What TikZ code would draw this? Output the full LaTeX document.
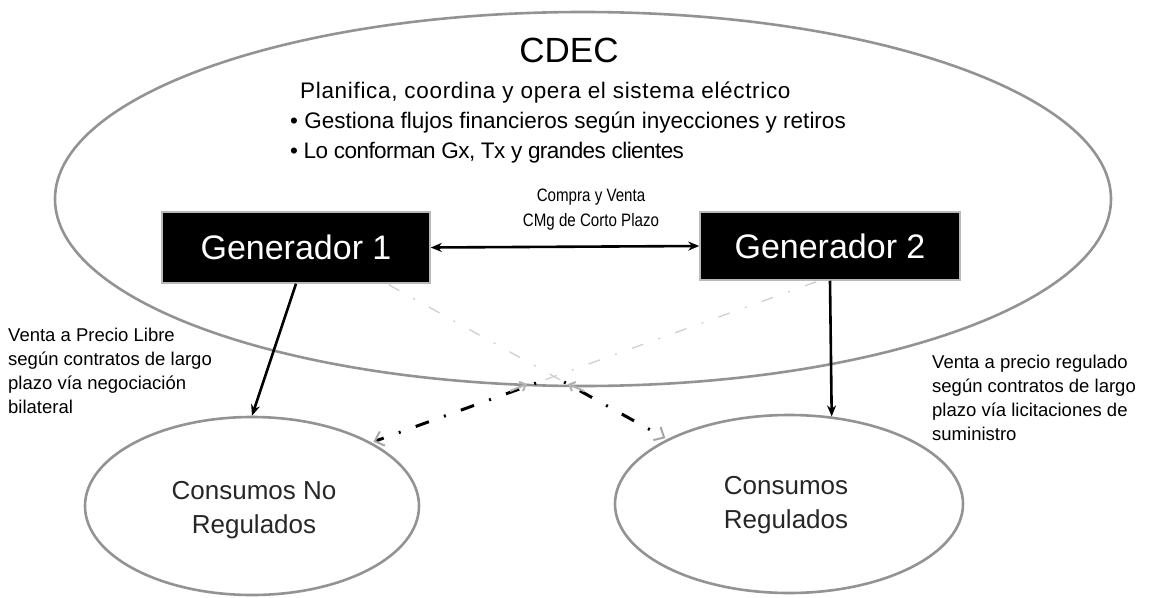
\documentclass[tikz,border=0pt]{standalone}
\usepackage{fontspec}
\setmainfont{Liberation Sans}
\newfontfamily\narrowfont[FakeStretch=0.84]{Liberation Sans}
\newfontfamily\widefont[LetterSpace=3]{Liberation Sans}
\newfontfamily\tightfont[LetterSpace=-2.5]{Liberation Sans}
\usetikzlibrary{shapes.geometric,arrows.meta,calc}
\begin{document}
\begin{tikzpicture}[x=1pt,y=-1pt,
  bigell/.style={ellipse, draw=gray!85, line width=2.6pt, inner sep=0pt},
  genbox/.style={rectangle, fill=black, draw=gray!55, line width=1.5pt, text=white, inner sep=0pt,
     font=\fontsize{34}{40}\selectfont},
  lbl/.style={align=left, inner sep=0pt, anchor=base west, font=\fontsize{18.5}{24}\selectfont},
  body/.style={inner sep=0pt, anchor=base west},
  solidarrow/.style={line width=2.6pt, -{Stealth[length=11pt,width=9pt]}},
  fadeddash/.style={draw=gray!40, line width=1.2pt, dash pattern=on 12pt off 16pt on 2pt off 16pt},
  darkdash/.style={draw=black, line width=3pt, dash pattern=on 2pt off 16pt on 14pt off 16pt,
     shorten >=2pt,
     -{Straight Barb[length=8pt,width=15pt,color=gray!70,line width=2pt]}},
  smallbarb/.style={draw=gray!60, line width=2pt, -{Straight Barb[length=5pt,width=10pt]}},
]
\useasboundingbox (0,0) rectangle (1151,597);
% big CDEC ellipse
\node[bigell, minimum width=1056pt, minimum height=374pt] (cdec) at (583,199) {};
\node[inner sep=0pt, font=\fontsize{35}{40}\selectfont] (title) at (569,50) {CDEC};
\node[body, font=\widefont\fontsize{22.5}{30}\selectfont] (l1) at (300,98) {Planifica, coordina y opera el sistema eléctrico};
\node[body, font=\fontsize{22.5}{30}\selectfont] (l2) at (290,128) {• Gestiona flujos financieros según inyecciones y retiros};
\node[body, font=\tightfont\fontsize{22.5}{30}\selectfont] (l3) at (290,158) {• Lo conforman Gx, Tx y grandes clientes};
% generators
\node[genbox, minimum width=268pt, minimum height=71pt] (gen1) at (296,247.5) {Generador 1};
\node[genbox, minimum width=260pt, minimum height=68pt] (gen2) at (830,246) {Generador 2};
\draw[line width=2.6pt, {Stealth[length=11pt,width=9pt]}-{Stealth[length=11pt,width=9pt]}] (gen1.east) -- (gen2.west);
\node[inner sep=0pt, align=center, font=\narrowfont\fontsize{18}{25}\selectfont] (cv) at (591,210) {Compra y Venta\\CMg de Corto Plazo};
% consumer ellipses
\node[bigell, minimum width=334pt, minimum height=178pt] (cnr) at (252,506) {};
\node[bigell, minimum width=348pt, minimum height=178pt] (cr) at (789,504) {};
\node[inner sep=0pt, align=center, text=black!85, font=\fontsize{26}{34}\selectfont] (tcnr) at (254,510) {Consumos No\\Regulados};
\node[inner sep=0pt, align=center, text=black!85, font=\fontsize{26}{34}\selectfont] (tcr) at (786,505) {Consumos\\Regulados};
% side labels (anchored at the baseline of the last line)
\node[lbl] (lleft) at (8,413) {Venta a Precio Libre\\según contratos de largo\\plazo vía negociación\\bilateral};
\node[lbl] (lright) at (932,440) {Venta a precio regulado\\según contratos de largo\\plazo vía licitaciones de\\suministro};
% solid arrows
\draw[solidarrow] (gen1.south) -- (cnr.north);
\draw[solidarrow] (gen2.south) -- (cr.64.6);
% dash-dot crossing arrows
\coordinate (s1) at ($(gen1.south east)+(-42,1)$);
\coordinate (e1) at (cr.152.5);
\coordinate (m1) at ($(s1)!0.63!(e1)$);
\draw[fadeddash] (s1) -- (m1);
\draw[darkdash] (m1) -- (e1);
\coordinate (s2) at ($(gen2.south west)+(117,1)$);
\coordinate (e2) at (cnr.28);
\coordinate (m2) at ($(s2)!0.63!(e2)$);
\draw[fadeddash] (s2) -- (m2);
\draw[darkdash] (m2) -- (e2);
% small grey barbs at the crossing
\coordinate (b1) at (510,391);
\coordinate (b2) at (584,391);
\draw[smallbarb] (b1) -- ++(17,-7);
\draw[smallbarb] (b2) -- ++(-16,-7);
\end{tikzpicture}
\end{document}
